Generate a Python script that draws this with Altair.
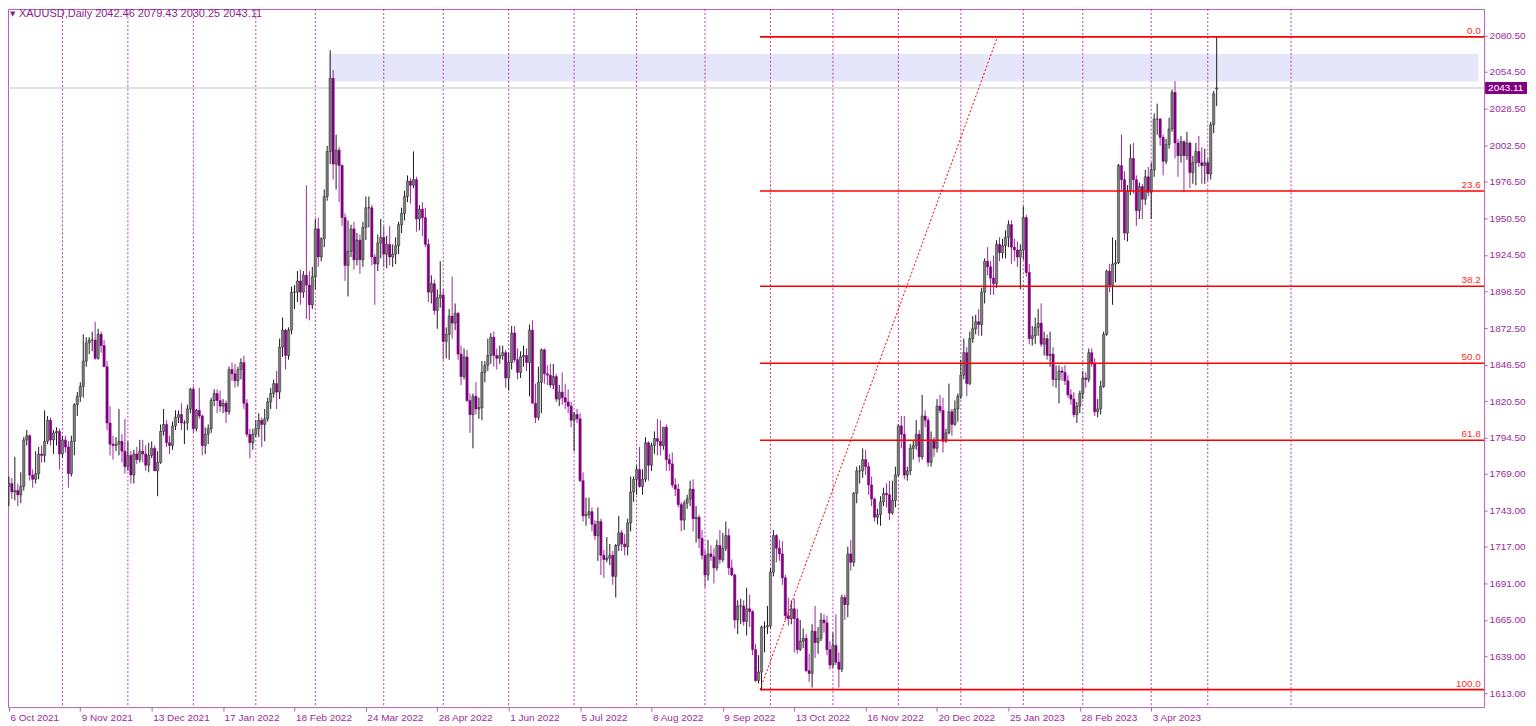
import json
import altair as alt
import pandas as pd

# ---------------- XAUUSD daily candles, 6 Oct 2021 .. 4 May 2023 (one line per month) ----------------
opens = [
    1760,1762,1756,1757,1754,1760,1793,1796,1768,1765,1769,1783,1782,1792,1807,1793,1798,1799,
    1783,1793,1788,1769,1792,1818,1824,1831,1849,1862,1864,1864,1851,1868,1860,1845,1805,1790,1789,1790,1792,1785,
    1774,1782,1768,1783,1779,1785,1783,1775,1782,1787,1771,1777,1799,1804,1791,1789,1803,1809,1811,1805,1805,1815,
    1829,1801,1814,1810,1789,1797,1801,1821,1826,1821,1817,1819,1813,1843,1840,1835,1843,1848,1819,1797,1791,
    1797,1801,1807,1804,1808,1820,1826,1833,1827,1859,1871,1853,1871,1898,1898,1906,1898,1910,1903,1889,
    1909,1943,1923,1936,1966,1998,2050,1989,1999,1988,1951,1917,1927,1943,1921,1935,1921,1944,1958,1958,1923,1918,1933,
    1937,1925,1932,1923,1925,1931,1946,1954,1966,1977,1974,1978,1950,1957,1951,1932,1898,1904,1885,1894,
    1896,1863,1868,1881,1876,1883,1854,1838,1852,1821,1811,1824,1815,1816,1841,1846,1853,1866,1853,1851,1853,1855,
    1837,1848,1869,1850,1841,1852,1853,1848,1871,1819,1809,1834,1857,1840,1839,1832,1838,1822,1827,1823,1820,1817,
    1807,1811,1808,1764,1739,1740,1742,1733,1725,1735,1711,1708,1709,1711,1696,1718,1727,1719,1717,1734,1756,
    1765,1772,1760,1765,1791,1775,1789,1794,1792,1789,1802,1779,1776,1761,1758,1747,1736,1748,1751,1758,1737,1738,1723,
    1711,1697,1712,1710,1702,1718,1708,1716,1725,1702,1697,1665,1675,1675,1664,1673,1671,1644,1622,1628,1660,1660,
    1661,1699,1725,1716,1712,1695,1668,1666,1673,1666,1644,1650,1652,1629,1627,1657,1649,1652,1665,1663,1644,
    1633,1647,1635,1630,1681,1676,1712,1706,1755,1771,1771,1779,1774,1761,1751,1738,1740,1749,1755,1754,1741,1750,
    1768,1803,1797,1768,1771,1787,1789,1797,1781,1810,1807,1777,1793,1787,1817,1814,1792,1798,1813,1804,1815,
    1824,1839,1855,1833,1865,1872,1877,1875,1898,1920,1916,1908,1904,1932,1926,1931,1937,1946,1930,1928,1923,
    1928,1951,1912,1865,1867,1873,1876,1861,1865,1853,1854,1836,1836,1842,1841,1835,1825,1822,1811,1817,
    1826,1837,1836,1855,1847,1813,1815,1831,1868,1913,1903,1918,1919,1988,1978,1940,1970,1993,1978,1956,1973,1964,1980,
    1969,1985,2021,2021,2008,1991,2003,2014,2040,2004,1995,2005,1995,2004,1983,1990,1998,1990,1988,
    1990,1982,2017,2042.46,
]
highs = [
    1767,1766,1781,1762,1770,1795,1800,1797,1772,1785,1788,1789,1814,1810,1809,1800,1802,1801,
    1796,1796,1792,1796,1819,1827,1834,1868,1866,1866,1870,1877,1872,1870,1864,1849,1817,1796,1795,1815,1797,1808,
    1792,1785,1786,1788,1793,1793,1789,1791,1792,1789,1785,1804,1815,1807,1796,1806,1814,1814,1819,1807,1818,1830,
    1831,1815,1830,1811,1802,1804,1823,1829,1829,1828,1822,1821,1845,1848,1847,1845,1851,1853,1822,1801,1801,
    1807,1812,1809,1815,1823,1830,1836,1842,1865,1880,1872,1873,1902,1903,1913,1914,1913,1974,1913,1916,
    1950,1951,1937,1971,2002,2070,2056,2010,2001,1989,1954,1949,1946,1948,1940,1939,1948,1966,1966,1960,1925,1939,1950,
    1945,1938,1945,1932,1937,1948,1958,1970,1981,1979,1998,1980,1960,1962,1958,1936,1910,1907,1900,1920,
    1900,1873,1886,1909,1890,1884,1860,1858,1857,1826,1826,1834,1823,1849,1849,1865,1869,1870,1858,1860,1860,1857,
    1855,1874,1874,1858,1856,1860,1858,1875,1878,1833,1845,1858,1858,1846,1847,1847,1840,1832,1841,1833,1829,1820,
    1813,1815,1812,1770,1752,1752,1745,1736,1745,1737,1715,1724,1719,1714,1719,1739,1729,1726,1737,1767,1767,
    1775,1788,1772,1795,1792,1791,1799,1808,1807,1802,1804,1783,1784,1766,1762,1749,1750,1754,1764,1765,1746,1740,1729,
    1715,1722,1718,1716,1722,1729,1727,1735,1730,1708,1698,1679,1680,1679,1688,1683,1672,1648,1640,1661,1664,1675,
    1702,1729,1726,1722,1721,1697,1681,1679,1680,1673,1665,1659,1655,1641,1662,1675,1660,1670,1669,1668,1650,
    1656,1669,1642,1683,1683,1717,1722,1756,1774,1775,1787,1786,1777,1767,1752,1744,1753,1759,1762,1764,1764,1774,
    1804,1810,1810,1774,1790,1793,1807,1800,1825,1814,1809,1799,1795,1822,1825,1823,1801,1833,1815,1821,1826,
    1850,1865,1859,1870,1881,1882,1886,1901,1922,1930,1920,1924,1935,1937,1936,1942,1949,1949,1936,1934,1932,
    1959,1953,1918,1874,1880,1886,1890,1870,1868,1870,1859,1846,1846,1845,1846,1839,1829,1827,1820,1828,
    1842,1841,1858,1858,1851,1822,1835,1870,1914,1918,1937,1935,1989,2010,1984,1974,2003,2004,1981,1976,1975,1985,1987,
    1990,2025,2032,2022,2010,2007,2022,2042,2048,2007,2009,2006,2012,2005,1995,2004,2009,2001,2000,
    1993,2019,2041,2079.43,
]
lows = [
    1746,1751,1750,1746,1748,1757,1789,1764,1759,1762,1765,1777,1777,1790,1789,1783,1789,1772,
    1780,1784,1759,1767,1782,1810,1820,1823,1845,1854,1856,1850,1850,1855,1845,1800,1782,1779,1785,1782,1777,1769,
    1771,1762,1762,1776,1777,1777,1771,1770,1780,1771,1753,1776,1796,1788,1783,1786,1800,1805,1800,1790,1800,1812,
    1798,1799,1808,1782,1783,1790,1798,1817,1812,1813,1812,1805,1811,1835,1830,1831,1836,1815,1795,1780,1786,
    1795,1795,1788,1792,1806,1815,1823,1815,1822,1852,1843,1850,1868,1886,1891,1889,1894,1879,1878,1886,
    1900,1916,1920,1930,1963,1989,1978,1971,1962,1945,1906,1895,1923,1914,1917,1911,1916,1935,1944,1917,1889,1913,1922,
    1916,1915,1917,1916,1918,1925,1940,1949,1962,1961,1972,1941,1942,1938,1930,1891,1890,1882,1872,1887,
    1850,1851,1850,1865,1871,1850,1832,1836,1820,1798,1787,1811,1808,1807,1834,1842,1847,1845,1843,1847,1850,1830,
    1828,1843,1848,1836,1837,1845,1842,1824,1822,1805,1807,1812,1833,1832,1830,1829,1820,1817,1818,1815,1812,1802,
    1785,1805,1763,1735,1732,1737,1728,1722,1707,1697,1695,1706,1704,1690,1681,1714,1714,1711,1711,1728,1749,
    1754,1759,1754,1763,1764,1771,1783,1782,1782,1786,1771,1771,1759,1753,1745,1728,1729,1744,1746,1728,1720,1716,1708,
    1688,1693,1707,1691,1700,1705,1706,1714,1697,1696,1659,1655,1662,1661,1654,1660,1640,1621,1620,1615,1642,1655,
    1659,1696,1706,1707,1690,1665,1661,1662,1642,1641,1643,1645,1628,1621,1617,1638,1641,1650,1656,1640,1630,
    1631,1633,1617,1628,1665,1667,1700,1703,1748,1762,1766,1768,1754,1746,1735,1733,1732,1746,1745,1736,1740,1745,
    1767,1787,1765,1764,1768,1779,1786,1777,1779,1802,1774,1774,1781,1784,1812,1784,1791,1797,1796,1803,1806,
    1822,1836,1824,1832,1862,1868,1867,1867,1890,1910,1896,1896,1901,1920,1922,1922,1930,1918,1920,1916,1900,
    1921,1909,1861,1860,1861,1867,1859,1853,1850,1845,1831,1830,1819,1835,1832,1823,1818,1809,1805,1812,
    1822,1830,1834,1845,1810,1809,1811,1830,1867,1898,1889,1905,1918,1970,1935,1934,1967,1968,1945,1950,1950,1960,1966,
    1950,1980,2010,2002,1981,1989,2000,2012,1993,1980,1990,1969,1992,1972,1975,1974,1987,1975,1975,
    1977,1978,2011,2030.25,
]
closes = [
    1762,1756,1757,1754,1760,1793,1796,1768,1765,1769,1783,1782,1792,1807,1793,1798,1799,1783,
    1793,1788,1769,1792,1818,1824,1831,1849,1862,1864,1864,1851,1868,1860,1845,1805,1790,1789,1790,1792,1785,1774,
    1782,1768,1783,1779,1785,1783,1775,1782,1787,1771,1777,1799,1804,1791,1789,1803,1809,1811,1805,1805,1815,1829,
    1801,1814,1810,1789,1797,1801,1821,1826,1821,1817,1819,1813,1843,1840,1835,1843,1848,1819,1797,1791,1797,
    1801,1807,1804,1808,1820,1826,1833,1827,1859,1871,1853,1871,1898,1898,1906,1898,1910,1903,1889,1909,
    1943,1923,1936,1966,1998,2050,1989,1999,1988,1951,1917,1927,1943,1921,1935,1921,1944,1958,1958,1923,1918,1933,1937,
    1925,1932,1923,1925,1931,1946,1954,1966,1977,1974,1978,1950,1957,1951,1932,1898,1904,1885,1894,1896,
    1863,1868,1881,1876,1883,1854,1838,1852,1821,1811,1824,1815,1816,1841,1846,1853,1866,1853,1851,1853,1855,1837,
    1848,1869,1850,1841,1852,1853,1848,1871,1819,1809,1834,1857,1840,1839,1832,1838,1822,1827,1823,1820,1817,1807,
    1811,1808,1764,1739,1740,1742,1733,1725,1735,1711,1708,1709,1711,1696,1718,1727,1719,1717,1734,1756,1765,
    1772,1760,1765,1791,1775,1789,1794,1792,1789,1802,1779,1776,1761,1758,1747,1736,1748,1751,1758,1737,1738,1723,1711,
    1697,1712,1710,1702,1718,1708,1716,1725,1702,1697,1665,1675,1675,1664,1673,1671,1644,1622,1628,1660,1660,1661,
    1699,1725,1716,1712,1695,1668,1666,1673,1666,1644,1650,1652,1629,1627,1657,1649,1652,1665,1663,1644,1633,
    1647,1635,1630,1681,1676,1712,1706,1755,1771,1771,1779,1774,1761,1751,1738,1740,1749,1755,1754,1741,1750,1768,
    1803,1797,1768,1771,1787,1789,1797,1781,1810,1807,1777,1793,1787,1817,1814,1792,1798,1813,1804,1815,1824,
    1839,1855,1833,1865,1872,1877,1875,1898,1920,1916,1908,1904,1932,1926,1931,1937,1946,1930,1928,1923,1928,
    1951,1912,1865,1867,1873,1876,1861,1865,1853,1854,1836,1836,1842,1841,1835,1825,1822,1811,1817,1826,
    1837,1836,1855,1847,1813,1815,1831,1868,1913,1903,1918,1919,1988,1978,1940,1970,1993,1978,1956,1973,1964,1980,1969,
    1985,2021,2021,2008,1991,2003,2014,2040,2004,1995,2005,1995,2004,1983,1990,1998,1990,1988,1990,
    1982,2017,2039,2043.11,
]

# month separators (bar index of first trading day of each month; last one is a future separator)
month_start_idx = [18, 40, 62, 83, 103, 126, 146, 168, 190, 211, 234, 256, 277, 299, 320, 341, 361, 384, 403, 431]

# date axis labels (every 24 bars)
date_label_idx = [0, 24, 48, 72, 96, 120, 144, 168, 192, 216, 240, 264, 288, 312, 336, 360, 384]
date_labels = ["6 Oct 2021", "9 Nov 2021", "13 Dec 2021", "17 Jan 2022", "18 Feb 2022", "24 Mar 2022",
               "28 Apr 2022", "1 Jun 2022", "5 Jul 2022", "8 Aug 2022", "9 Sep 2022", "13 Oct 2022",
               "16 Nov 2022", "20 Dec 2022", "25 Jan 2023", "28 Feb 2023", "3 Apr 2023"]

# price axis labels
price_ticks = [2080.50, 2054.50, 2028.50, 2002.50, 1976.50, 1950.50, 1924.50, 1898.50, 1872.50, 1846.50,
               1820.50, 1794.50, 1769.00, 1743.00, 1717.00, 1691.00, 1665.00, 1639.00, 1613.00]

# Fibonacci retracement object
fib_ratios = [0.0, 23.6, 38.2, 50.0, 61.8, 100.0]
fib_high = 2079.43
fib_low = 1615.5
fib_start_idx = 252.5
fib_top_idx = 332.3
fib_end_idx = 495.9
fib_label_idx = 494.8

# resistance zone rectangle
zone_idx = [107.5, 494.0]
zone_price = [2047.8, 2067.2]

last_price = 2043.11
header_text = "XAUUSD,Daily  2042.46 2079.43 2030.25 2043.11"

# ---------------- build ----------------
n = len(closes)
assert len(opens) == n and len(highs) == n and len(lows) == n, (len(opens), len(highs), len(lows), n)

candles = pd.DataFrame({"i": list(range(n)), "o": opens, "h": highs, "l": lows, "c": closes})

X_DOMAIN = [-0.3, 495.9]
Y_DOMAIN = [1603.1, 2099.3]
W, H = 1480, 700

TXT = "#9a2a9a"
AXC = "#b15fb8"
SEP = "#b43cb4"
RED = "#ff0000"

label_expr = "%s[indexof(%s, datum.value)]" % (json.dumps(date_labels), json.dumps(date_label_idx))

x_axis = alt.Axis(values=date_label_idx, labelExpr=label_expr, title=None, labelAlign="left",
                  labelBaseline="top", labelPadding=1, labelOffset=1, tickSize=4, labelOverlap=False,
                  labelFlush=False, domain=False, grid=False)
y_axis = alt.Axis(values=price_ticks, format=".2f", orient="right", title=None, labelAlign="left",
                  labelBaseline="middle", labelPadding=2, tickSize=3, labelOverlap=False,
                  labelFlush=False, domain=False, grid=False)

xs = alt.Scale(domain=X_DOMAIN, nice=False, zero=False, padding=0)
ys = alt.Scale(domain=Y_DOMAIN, nice=False, zero=False, padding=0)


def X(f):
    return alt.X(f, type="quantitative", scale=xs, axis=x_axis)


def Y(f):
    return alt.Y(f, type="quantitative", scale=ys, axis=y_axis)


zone = alt.Chart(pd.DataFrame({"x0": [zone_idx[0]], "x1": [zone_idx[1]],
                               "y0": [zone_price[0]], "y1": [zone_price[1]]})).mark_rect(
    color="#e6e6fa").encode(x=X("x0"), x2="x1", y=Y("y0"), y2="y1")

seps = alt.Chart(pd.DataFrame({"i": month_start_idx})).mark_rule(
    color=SEP, strokeDash=[2, 2], strokeWidth=1).encode(x=X("i"))

last_line = alt.Chart(pd.DataFrame({"p": [last_price]})).mark_rule(
    color="#c4c4c4", strokeWidth=1).encode(y=Y("p"))

up = "datum.c >= datum.o"
wicks = alt.Chart(candles).mark_rule(strokeWidth=1).encode(
    x=X("i"), y=Y("l"), y2="h",
    color=alt.condition(up, alt.value("#1c1c1c"), alt.value("#9a2c9a")))

bodies = alt.Chart(candles).mark_bar(size=2.3, strokeWidth=0.5).encode(
    x=X("i"), y=Y("o"), y2="c",
    fill=alt.condition(up, alt.value("#7c7c7c"), alt.value("#800080")),
    stroke=alt.condition(up, alt.value("#262626"), alt.value("#800080")))

fib_df = pd.DataFrame({
    "r": fib_ratios,
    "p": [fib_high - (fib_high - fib_low) * r / 100.0 for r in fib_ratios],
    "lab": ["%.1f" % r for r in fib_ratios],
    "x0": [fib_start_idx] * len(fib_ratios),
    "x1": [fib_end_idx] * len(fib_ratios),
    "xl": [fib_label_idx] * len(fib_ratios),
})

fib_lines = alt.Chart(fib_df).mark_rule(color=RED, strokeWidth=1.6).encode(
    x=X("x0"), x2="x1", y=Y("p"))

fib_labels = alt.Chart(fib_df).mark_text(
    color="#ff2a2a", font="Liberation Sans", fontSize=10, align="right", baseline="bottom", dy=-1).encode(
    x=X("xl"), y=Y("p"), text="lab:N")

fib_diag = alt.Chart(pd.DataFrame({"x0": [fib_start_idx], "x1": [fib_top_idx],
                                   "y0": [fib_low], "y1": [fib_high]})).mark_rule(
    color=RED, strokeDash=[2, 2], strokeWidth=1).encode(x=X("x0"), x2="x1", y=Y("y0"), y2="y1")

price_df = pd.DataFrame({"p": [last_price], "t": ["%.2f" % last_price]})
price_box = alt.Chart(price_df).mark_rect(color="#800080", yOffset=-6, y2Offset=6).encode(
    x=alt.value(W + 1), x2=alt.value(W + 43), y=Y("p"), y2="p")
price_txt = alt.Chart(price_df).mark_text(
    color="white", font="Liberation Sans", fontSize=10, align="left", baseline="middle").encode(
    x=alt.value(W + 4), y=Y("p"), text="t:N")

head_df = pd.DataFrame({"t": [header_text], "m": ["\u25bc"]})
head_mark = alt.Chart(head_df).mark_text(
    color="#8a1f8a", font="DejaVu Sans", fontSize=7, align="left", baseline="middle").encode(
    x=alt.value(2), y=alt.value(5), text="m:N")
head_txt = alt.Chart(head_df).mark_text(
    color="#8a1f8a", font="Liberation Sans", fontSize=11, align="left", baseline="middle").encode(
    x=alt.value(11), y=alt.value(5), text="t:N")

chart = alt.layer(
    zone, seps, last_line, wicks, bodies, fib_lines, fib_diag, fib_labels, price_box, price_txt,
    head_mark, head_txt
).properties(
    width=W, height=H,
    autosize=alt.AutoSizeParams(type="none"),
    padding={"left": 0, "top": 0, "right": 44, "bottom": 16},
    background="white",
).configure_view(
    stroke=AXC, strokeWidth=1
).configure_axis(
    labelFont="Liberation Sans", labelFontSize=10, labelColor=TXT, tickColor=AXC, tickWidth=1
)

chart.save("out.html", embed_options={"renderer": "svg", "actions": False})
